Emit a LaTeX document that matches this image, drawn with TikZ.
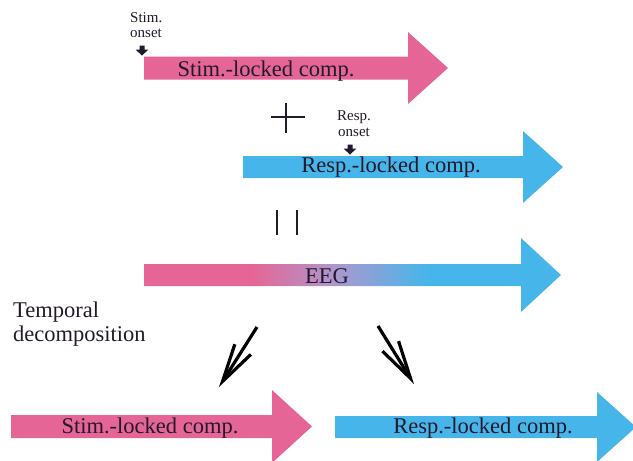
\documentclass[tikz,border=0pt]{standalone}
\usepackage{fontspec}
\setmainfont{Liberation Serif}
\usetikzlibrary{arrows.meta}
\definecolor{pinkc}{RGB}{229,102,150}
\definecolor{bluec}{RGB}{70,182,234}
\definecolor{midc}{RGB}{172,152,206}
\definecolor{txt}{RGB}{35,25,45}
\pgfdeclarehorizontalshading{eegshade}{100bp}{color(0bp)=(pinkc); color(38bp)=(pinkc); color(48bp)=(midc); color(59bp)=(bluec); color(100bp)=(bluec)}
\tikzset{
  pinkarrow/.style={fill=pinkc, draw=none},
  bluearrow/.style={fill=bluec, draw=none},
  lbl/.style={font=\fontsize{22.5}{27}\selectfont, text=txt, inner sep=0pt},
  smalllbl/.style={font=\fontsize{15}{15}\selectfont, text=txt, inner sep=0pt},
  sidelbl/.style={font=\fontsize{22.5}{24}\selectfont, text=txt, inner sep=0pt},
  opline/.style={line width=2.6pt, draw=txt},
  onsetmark/.style={fill=txt, draw=none},
  decomp/.style={line width=3.2pt, draw=black, -{Straight Barb[length=38pt,width=19pt]}}
}
\begin{document}
\begin{tikzpicture}[x=1pt,y=-1pt]
\useasboundingbox (0,0) rectangle (633,461);
\clip (0,0) rectangle (633,461);

% top pink arrow
\path[pinkarrow] (144,56.5) -- (408,56.5) -- (408,32) -- (448,68) -- (408,104) -- (408,79.5) -- (144,79.5) -- cycle;
\node[lbl, anchor=base] (stimcomp) at (266,76) {Stim.-locked comp.};

% stim onset
\node[smalllbl, anchor=base west] (stimonA) at (130,22) {Stim.};
\node[smalllbl, anchor=base west] (stimonB) at (130,37) {onset};
\path[onsetmark] (139.5,45.5) -- (144.5,45.5) -- (144.5,49.5) -- (148.5,49.5) -- (142,55.5) -- (135.5,49.5) -- (139.5,49.5) -- cycle;

% plus
\coordinate (plusL) at (271,117);
\coordinate (plusR) at (305,117);
\coordinate (plusT) at (286,103);
\coordinate (plusB) at (286,133);
\draw[opline] (plusL) -- (plusR);
\draw[opline] (plusT) -- (plusB);

% resp onset
\node[smalllbl, anchor=base] (respA) at (354,120) {Resp.};
\node[smalllbl, anchor=base] (respB) at (354,136) {onset};
\path[onsetmark] (347.5,144.5) -- (352.5,144.5) -- (352.5,148.5) -- (356.5,148.5) -- (350,154.5) -- (343.5,148.5) -- (347.5,148.5) -- cycle;

% blue arrow
\path[bluearrow] (243,156) -- (523,156) -- (523,131) -- (563,167) -- (523,203) -- (523,178) -- (243,178) -- cycle;
\node[lbl, anchor=base] (respcomp) at (391,172) {Resp.-locked comp.};

% equals (vertical bars)
\coordinate (eqA1) at (277,210);
\coordinate (eqA2) at (277,235);
\coordinate (eqB1) at (297,210);
\coordinate (eqB2) at (297,235);
\draw[opline] (eqA1) -- (eqA2);
\draw[opline] (eqB1) -- (eqB2);

% EEG arrow
\path[shading=eegshade, draw=none] (144,264) -- (521,264) -- (521,238) -- (561,275) -- (521,312) -- (521,286) -- (144,286) -- cycle;
\node[lbl, anchor=base] (eeg) at (327,283) {EEG};

% temporal decomposition
\node[sidelbl, anchor=base west] (tempA) at (13,317) {Temporal};
\node[sidelbl, anchor=base west] (tempB) at (13,341) {decomposition};

% decomposition arrows
\coordinate (ls) at (257,327);
\coordinate (le) at (219,387);
\coordinate (rs) at (378,326);
\coordinate (re) at (414,384);
\draw[decomp] (ls) -- (le);
\draw[decomp] (rs) -- (re);

% bottom arrows
\path[pinkarrow] (11,415) -- (272,415) -- (272,390) -- (312,426.5) -- (272,463) -- (272,438) -- (11,438) -- cycle;
\node[lbl, anchor=base] (stimcomp2) at (150,433) {Stim.-locked comp.};
\path[bluearrow] (335,416) -- (597,416) -- (597,392) -- (636,427) -- (597,462) -- (597,438) -- (335,438) -- cycle;
\node[lbl, anchor=base] (respcomp2) at (483,433) {Resp.-locked comp.};
\end{tikzpicture}
\end{document}
